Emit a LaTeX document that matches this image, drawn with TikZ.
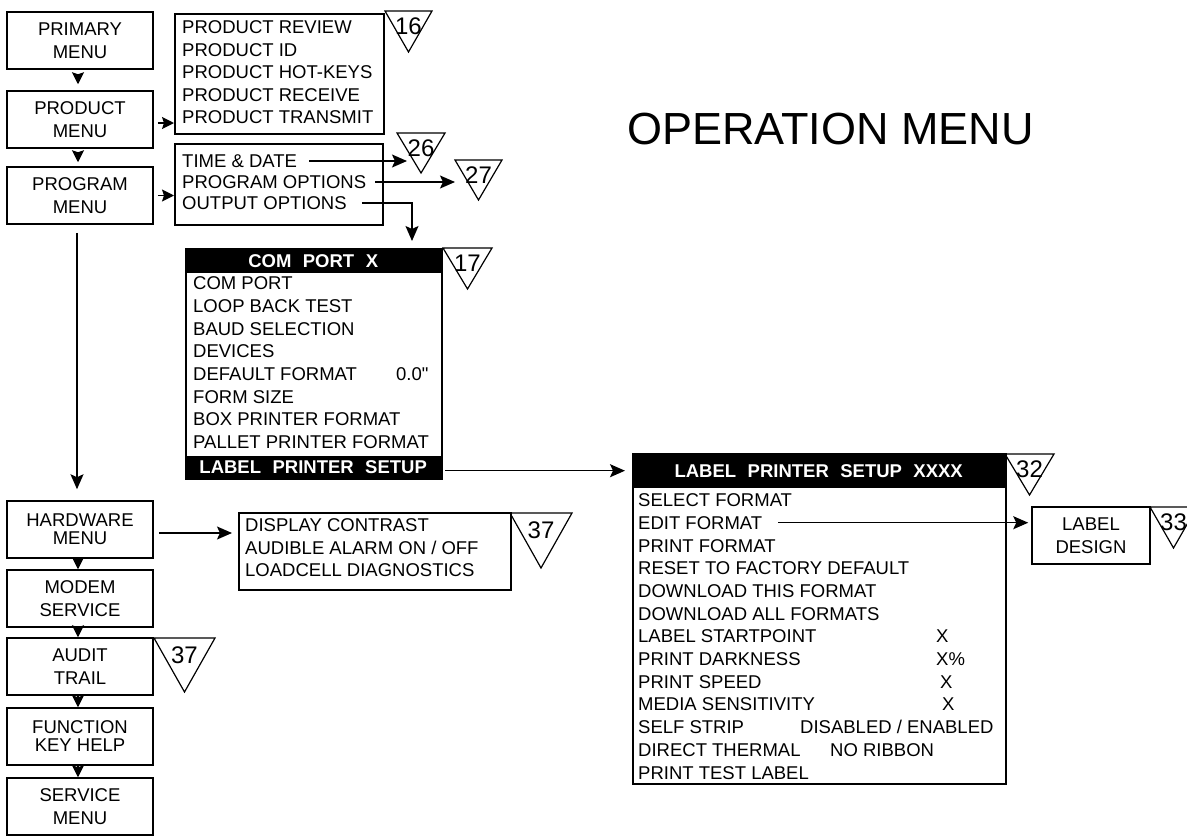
\documentclass[tikz,border=0pt]{standalone}
\usepackage{fontspec}
\setmainfont{Liberation Sans}
\newfontfamily\qfont{Liberation Sans}[Ligatures=TeXOff]
\usetikzlibrary{arrows.meta}
\begin{document}
\begin{tikzpicture}[x=1pt,y=-1pt,
  box/.style={draw, line width=1.5pt, rectangle, inner sep=0pt, anchor=north west},
  menubox/.style={draw, line width=1.5pt, minimum width=146pt, minimum height=57pt, inner sep=0pt, align=center, font=\fontsize{18.5}{22.5}\selectfont},
  tightbox/.style={menubox, font=\fontsize{18.5}{18}\selectfont},
  row/.style={anchor=west, inner sep=0pt, text height=13.2pt, text depth=0pt, font=\fontsize{18.5}{22}\selectfont},
  hdr/.style={fill=black, text=white, inner sep=0pt, anchor=north west, font=\bfseries\fontsize{18.5}{22}\selectfont},
  tri/.style={draw, line width=1.2pt},
  num/.style={inner sep=0pt, font=\fontsize{24}{24}\selectfont},
  bigarrow/.style={line width=1.5pt, -{Stealth[length=15pt,width=13pt,inset=3pt]}},
  smallarrow/.style={line width=1.5pt, -{Stealth[length=12pt,width=12pt,inset=2pt]}},
]
\useasboundingbox (0,0) rectangle (1187,836);

% title
\node[anchor=base west, inner sep=0pt, font=\fontsize{45}{45}\selectfont] (title) at (627,144) {OPERATION MENU};

% left column
\node[menubox] (primary) at (80,40.5) {PRIMARY\\MENU};
\node[menubox] (product) at (80,119.5) {PRODUCT\\MENU};
\node[menubox] (program) at (80,195.5) {PROGRAM\\MENU};
\node[tightbox] (hardware) at (80,529.5) {HARDWARE\\MENU};
\node[menubox] (modem) at (80,598.5) {MODEM\\SERVICE};
\node[menubox] (audit) at (80,666.5) {AUDIT\\TRAIL};
\node[tightbox] (function) at (80,736.5) {FUNCTION\\KEY HELP};
\node[menubox] (service) at (80,806.5) {SERVICE\\MENU};

% product list
\node[box, minimum width=209pt, minimum height=120pt] (prodlist) at (174,13) {};
\node[row] (pr1) at (182,27) {PRODUCT REVIEW};
\node[row] (pr2) at (182,49.5) {PRODUCT ID};
\node[row] (pr3) at (182,72) {PRODUCT HOT-KEYS};
\node[row] (pr4) at (182,94.5) {PRODUCT RECEIVE};
\node[row] (pr5) at (182,117) {PRODUCT TRANSMIT};

% program list
\node[box, minimum width=208pt, minimum height=81pt] (proglist) at (174,143) {};
\node[row] (td) at (182,161) {TIME \& DATE};
\node[row] (po) at (182,182) {PROGRAM OPTIONS};
\node[row] (oo) at (182,203) {OUTPUT OPTIONS};

% com port box
\node[box, minimum width=256pt, minimum height=230pt] (com) at (185,248) {};
\node[hdr, minimum width=256pt, minimum height=25pt] (comhead) at (185,248) {COM\hspace{0.62em}PORT\hspace{0.62em}X};
\node[row] (c1) at (193,283) {COM PORT};
\node[row] (c2) at (193,305.7) {LOOP BACK TEST};
\node[row] (c3) at (193,328.4) {BAUD SELECTION};
\node[row] (c4) at (193,351.1) {DEVICES};
\node[row] (c5) at (193,373.8) {DEFAULT FORMAT};
\node[row] (c5v) at (396,373.8) {0.0{\qfont"}};
\node[row] (c6) at (193,396.5) {FORM SIZE};
\node[row] (c7) at (193,419.2) {BOX PRINTER FORMAT};
\node[row] (c8) at (193,441.9) {PALLET PRINTER FORMAT};
\node[hdr, minimum width=256pt, minimum height=22pt] (comfoot) at (185,456) {LABEL\hspace{0.62em}PRINTER\hspace{0.62em}SETUP};

% hardware list
\node[box, minimum width=272pt, minimum height=77pt] (disp) at (238,512) {};
\node[row] (d1) at (245,525) {DISPLAY CONTRAST};
\node[row] (d2) at (245,547.5) {AUDIBLE ALARM ON / OFF};
\node[row] (d3) at (245,570) {LOADCELL DIAGNOSTICS};

% label printer setup box
\node[box, minimum width=373pt, minimum height=330pt] (lps) at (632,453) {};
\node[hdr, minimum width=373pt, minimum height=35pt] (lpshead) at (632,453) {LABEL\hspace{0.62em}PRINTER\hspace{0.62em}SETUP\hspace{0.62em}XXXX\hspace{20pt}};
\node[row] (l1) at (638,500) {SELECT FORMAT};
\node[row] (ef) at (638,522.7) {EDIT FORMAT};
\node[row] (l3) at (638,545.4) {PRINT FORMAT};
\node[row] (l4) at (638,568.1) {RESET TO FACTORY DEFAULT};
\node[row] (l5) at (638,590.8) {DOWNLOAD THIS FORMAT};
\node[row] (l6) at (638,613.5) {DOWNLOAD ALL FORMATS};
\node[row] (l7) at (638,636.2) {LABEL STARTPOINT};
\node[row] (l7v) at (936,636.2) {X};
\node[row] (l8) at (638,658.9) {PRINT DARKNESS};
\node[row] (l8v) at (936,658.9) {X\%};
\node[row] (l9) at (638,681.6) {PRINT SPEED};
\node[row] (l9v) at (940,681.6) {X};
\node[row] (l10) at (638,704.3) {MEDIA SENSITIVITY};
\node[row] (l10v) at (942,704.3) {X};
\node[row] (l11) at (638,727) {SELF STRIP};
\node[row] (l11v) at (800,727) {DISABLED / ENABLED};
\node[row] (l12) at (638,749.7) {DIRECT THERMAL};
\node[row] (l12v) at (830,749.7) {NO RIBBON};
\node[row] (l13) at (638,772.4) {PRINT TEST LABEL};

% label design
\node[menubox, minimum width=118pt] (ld) at (1091,535.5) {LABEL\\DESIGN};

% reference triangles
\draw[tri] (385,11) -- (432,11) -- (408.5,52) -- cycle;
\node[num] (n16) at (408.5,26) {16};
\draw[tri] (397,133) -- (445,133) -- (421,173) -- cycle;
\node[num] (n26) at (421,148) {26};
\draw[tri] (455,160) -- (502,160) -- (478.5,200) -- cycle;
\node[num] (n27) at (478.5,175) {27};
\draw[tri] (443,248) -- (492,248) -- (467.5,289) -- cycle;
\node[num] (n17) at (467.5,263) {17};
\draw[tri] (1005,454) -- (1054,454) -- (1029.5,495) -- cycle;
\node[num] (n32) at (1029.5,469) {32};
\draw[tri] (1150,507) -- (1197,507) -- (1173.5,548) -- cycle;
\node[num] (n33) at (1173.5,522) {33};
\draw[tri] (510,513) -- (572,513) -- (541,568) -- cycle;
\node[num] (n37a) at (541,530) {37};
\draw[tri] (154,638) -- (215,638) -- (184.5,692) -- cycle;
\node[num] (n37b) at (184.5,655) {37};

% connectors: left column
\draw[smallarrow, shorten <=4pt, shorten >=6pt] ([xshift=-2pt]primary.south) -- ([xshift=-2pt]product.north);
\draw[smallarrow, shorten <=4pt, shorten >=4pt] ([xshift=-2pt]product.south) -- ([xshift=-2pt]program.north);
\draw[bigarrow, shorten <=8pt, shorten >=11pt] ([xshift=-3pt]program.south) -- ([xshift=-3pt]hardware.north);
\draw[smallarrow] ([xshift=-2pt]hardware.south) -- ([xshift=-2pt]modem.north);
\draw[smallarrow] ([xshift=-2pt]modem.south) -- ([xshift=-2pt]audit.north);
\draw[smallarrow] ([xshift=-2pt]audit.south) -- ([xshift=-2pt]function.north);
\draw[smallarrow] ([xshift=-2pt]function.south) -- ([xshift=-2pt]service.north);

% connectors: menus to lists
\coordinate (a1) at ([yshift=-3.5pt]product.east);
\draw[smallarrow, shorten <=4pt] (a1) -- (a1 -| prodlist.west);
\coordinate (a2) at (program.east);
\draw[smallarrow, shorten <=4pt] (a2) -- (a2 -| proglist.west);
\coordinate (a3) at ([yshift=-3.5pt]hardware.east);
\draw[bigarrow, shorten <=5pt, shorten >=6pt] (a3) -- (a3 -| disp.west);

% connectors: program options
\coordinate (c26) at (407,161);
\coordinate (c27) at (455,182);
\coordinate (c17) at (412,241);
\draw[bigarrow] ([xshift=12pt]td.east) -- (c26);
\draw[bigarrow] ([xshift=9pt]po.east) -- (c27);
\draw[bigarrow] ([xshift=15pt]oo.east) -| (c17);

% com port to label printer setup
\coordinate (a4) at ([xshift=4pt]comfoot.east);
\draw[bigarrow, shorten >=7pt] (a4 |- lpshead.west) -- (lpshead.west);

% edit format to label design
\draw[bigarrow, shorten >=3pt] ([xshift=16pt]ef.east) -- (ef.east -| ld.west);
\end{tikzpicture}
\end{document}
